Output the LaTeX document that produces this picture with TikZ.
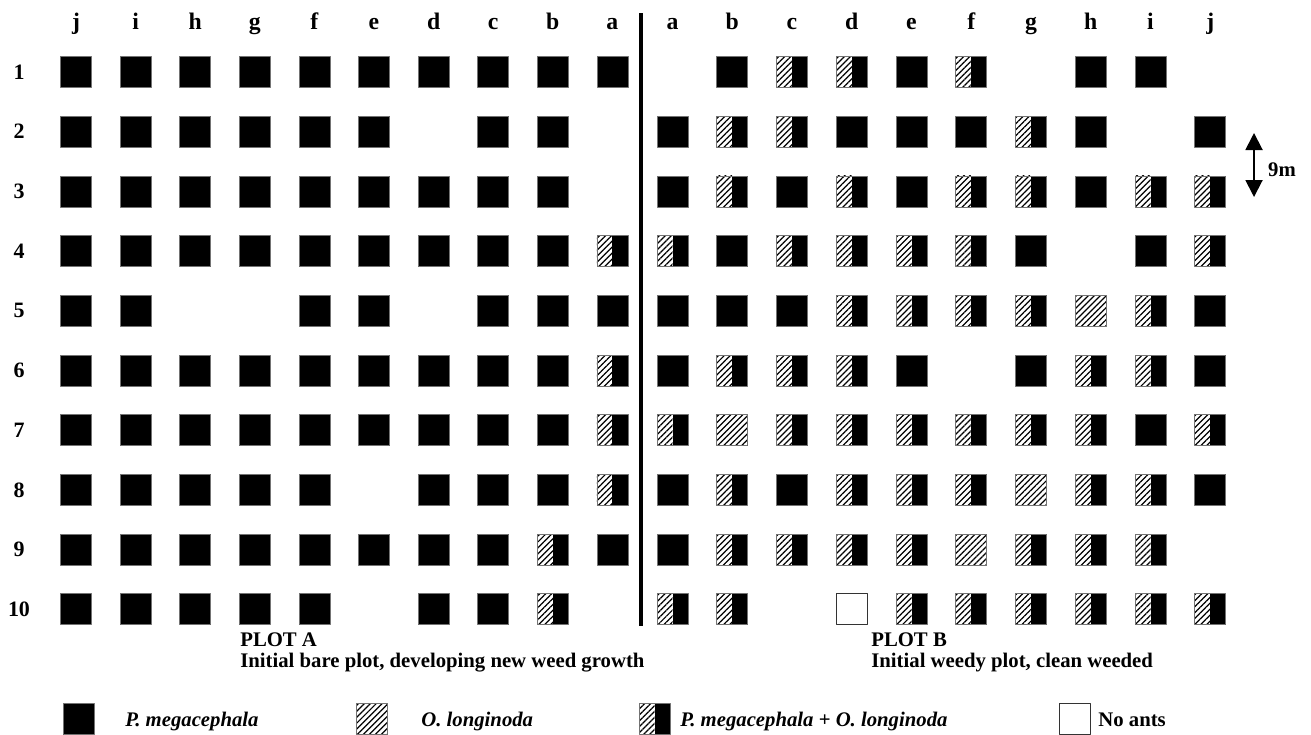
\documentclass[tikz,border=0pt]{standalone}
\usepackage{fontspec}
\setmainfont{Liberation Serif}
\usetikzlibrary{arrows.meta,patterns.meta}
\def\nocell{x}
\tikzset{
	hatch/.style={pattern={Lines[angle=45,distance=2.4pt,line width=0.7pt]}},
	cell/.style={draw=black!55, line width=0.4pt, minimum size=0.62cm, inner sep=0pt},
	cellP/.style={cell, fill=black},
	cellO/.style={cell, hatch},
	cellM/.style={cell, fill=black, path picture={
		\fill[white] (path picture bounding box.south west) rectangle (path picture bounding box.north);
		\fill[hatch] (path picture bounding box.south west) rectangle (path picture bounding box.north);}},
	cellN/.style={cell, draw=black!80, fill=white},
	lab/.style={font=\fontsize{11.8}{14}\selectfont\bfseries, inner sep=0pt},
	rowlab/.style={font=\fontsize{12.5}{14}\selectfont\bfseries, inner sep=0pt},
	collab/.style={font=\fontsize{13.5}{14}\selectfont\bfseries, inner sep=0pt, anchor=base},
}
\begin{document}
\begin{tikzpicture}[x=0.02cm, y=-0.02cm, line join=round]
			\useasboundingbox (0,0) rectangle (1311,734);
			\foreach \t [count=\k] in {j,i,h,g,f,e,d,c,b,a}
			\node[collab] (colA-\k) at ({76+59.6*(\k-1)},29) {\t};
			\foreach \t [count=\k] in {a,b,c,d,e,f,g,h,i,j}
			\node[collab] (colB-\k) at ({672.5+59.75*(\k-1)},29) {\t};
			\foreach \r in {1,...,10}
			\node[rowlab] (row-\r) at (19,{72+59.7*(\r-1)}) {\r};
			\foreach \r/\cells in {1/{P,P,P,P,P,P,P,P,P,P},2/{P,P,P,P,P,P,x,P,P,x},
				3/{P,P,P,P,P,P,P,P,P,x},4/{P,P,P,P,P,P,P,P,P,M},5/{P,P,x,x,P,P,x,P,P,P},
				6/{P,P,P,P,P,P,P,P,P,M},7/{P,P,P,P,P,P,P,P,P,M},8/{P,P,P,P,P,x,P,P,P,M},
				9/{P,P,P,P,P,P,P,P,M,P},10/{P,P,P,P,P,x,P,P,M,x}}
			\foreach \s [count=\k] in \cells {
				\edef\cellcode{\s}
				\ifx\cellcode\nocell\else
				\node[cell\s] (A-\k-\r) at ({76+59.6*(\k-1)},{72+59.7*(\r-1)}) {};
				\fi}
			\foreach \r/\cells in {1/{x,P,M,M,P,M,x,P,P,x},2/{P,M,M,P,P,P,M,P,x,P},
				3/{P,M,P,M,P,M,M,P,M,M},4/{M,P,M,M,M,M,P,x,P,M},5/{P,P,P,M,M,M,M,O,M,P},
				6/{P,M,M,M,P,x,P,M,M,P},7/{M,O,M,M,M,M,M,M,P,M},8/{P,M,P,M,M,M,O,M,M,P},
				9/{P,M,M,M,M,O,M,M,M,x},10/{M,M,x,N,M,M,M,M,M,M}}
			\foreach \s [count=\k] in \cells {
				\edef\cellcode{\s}
				\ifx\cellcode\nocell\else
				\node[cell\s] (B-\k-\r) at ({672.5+59.75*(\k-1)},{72+59.7*(\r-1)}) {};
				\fi}
			\coordinate (divtop) at (641,13);
			\coordinate (divbot) at (641,626);
			\draw[line width=1.9pt] (divtop)--(divbot);
			\coordinate (top9) at (1254,133);
			\coordinate (bot9) at (1254,197);
			\draw[line width=1.1pt, {Triangle[width=0.34cm,length=0.34cm]}-{Triangle[width=0.34cm,length=0.34cm]}] (top9)--(bot9);
			\node[lab] (dist) at (1282,170) {9m};
			\node[lab, anchor=base west] (plotA) at (240,646) {PLOT A};
			\node[lab, anchor=base west] (descA) at (240,667) {Initial bare plot, developing new weed growth};
			\node[lab, anchor=base west] (plotB) at (871,646) {PLOT B};
			\node[lab, anchor=base west] (descB) at (871,667) {Initial weedy plot, clean weeded};
			\foreach \x/\s/\n in {78.5/P/1,372/O/2,654.5/M/3,1074.5/N/4}
			\node[cell\s] (key-\n) at (\x,719) {};
			\node[lab, anchor=base west] (keytxt-1) at (125,726) {\itshape P. megacephala};
			\node[lab, anchor=base west] (keytxt-2) at (421,726) {\itshape O. longinoda};
			\node[lab, anchor=base west] (keytxt-3) at (680,726) {{\itshape P. megacephala} + {\itshape O. longinoda}};
			\node[lab, anchor=base west] (keytxt-4) at (1098,726) {No ants};
		\end{tikzpicture}
\end{document}
